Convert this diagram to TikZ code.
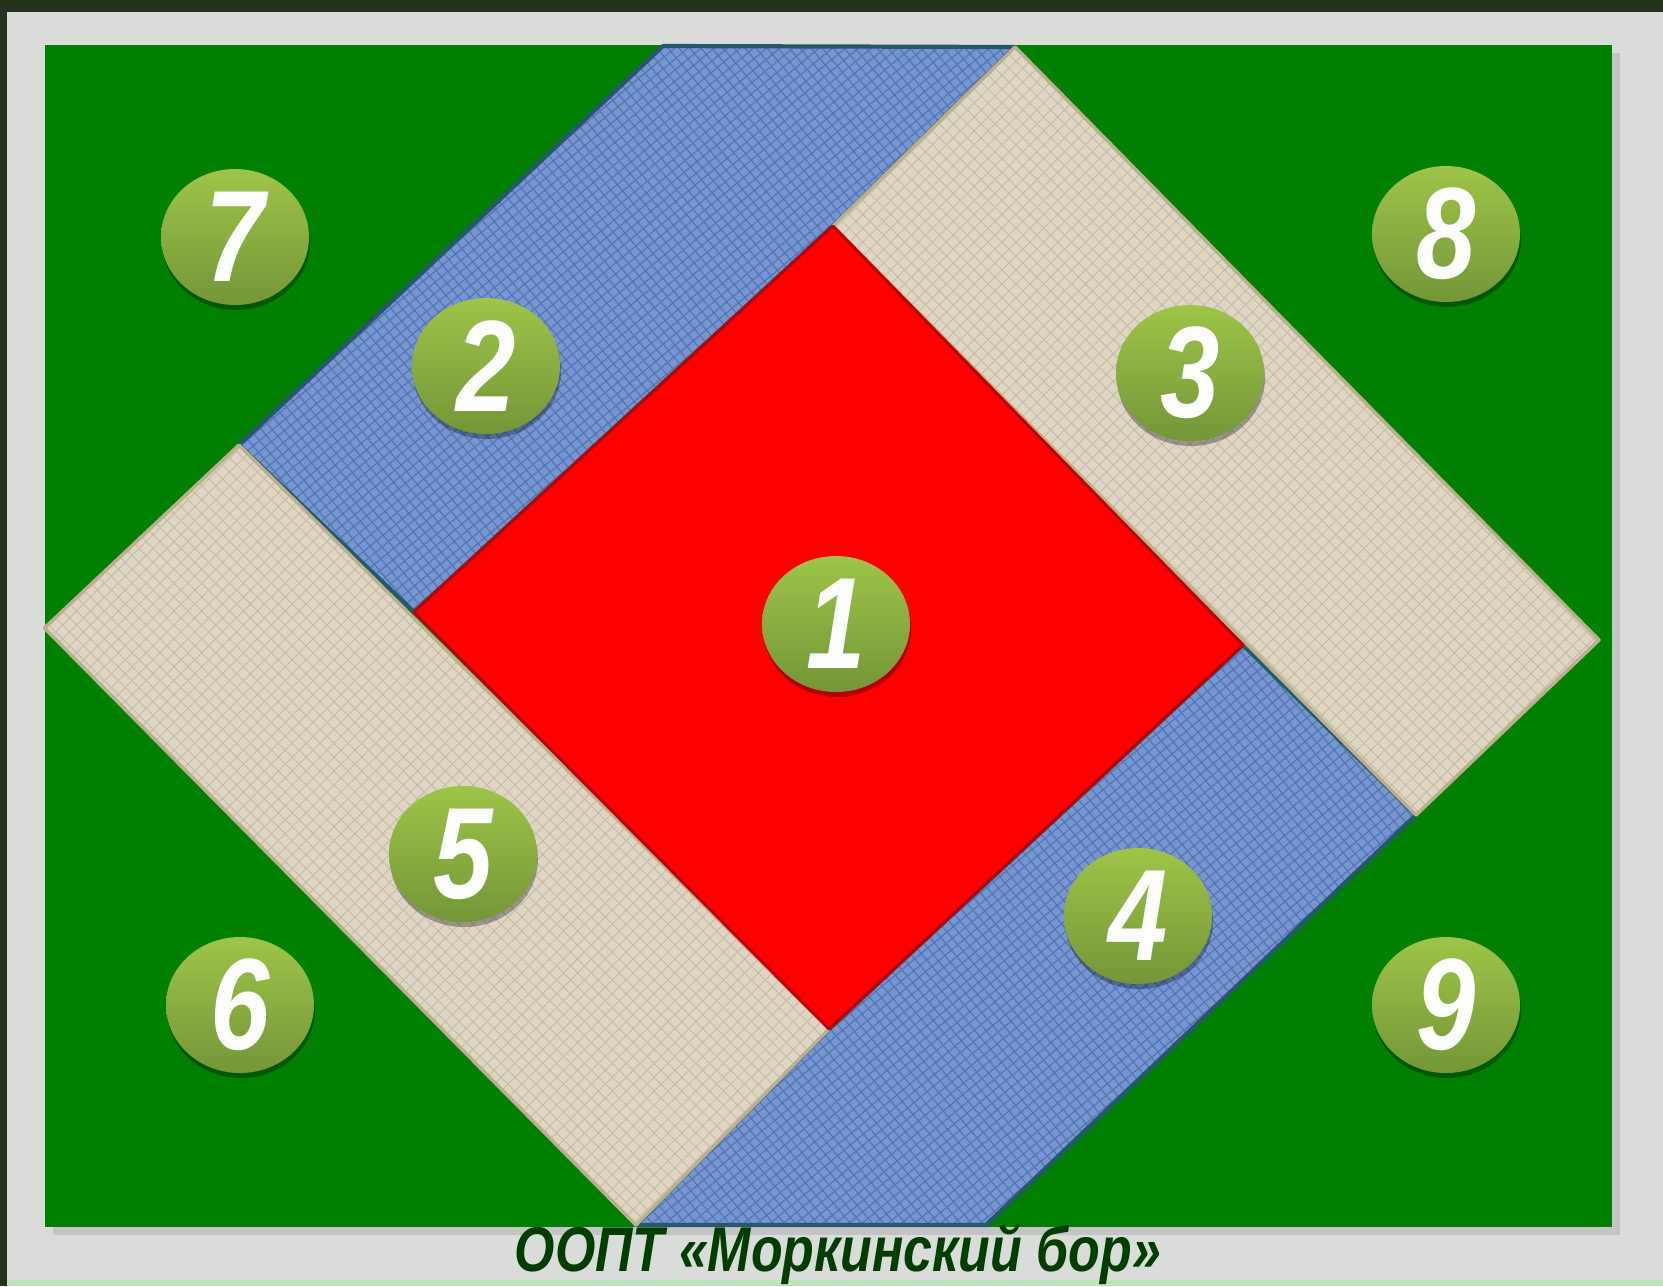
\documentclass[tikz,border=0pt]{standalone}
\usepackage{fontspec}
\usepackage{graphicx}
\setmainfont{Liberation Sans}
\usepackage{tikz}
\usetikzlibrary{shapes.geometric,shadows,patterns.meta}
\definecolor{fieldgreen}{RGB}{0,128,0}
\definecolor{corered}{RGB}{255,0,0}
\definecolor{clothblue}{RGB}{118,150,208}
\definecolor{clothdark}{RGB}{86,116,182}
\definecolor{clothedge}{RGB}{38,88,108}
\definecolor{linen}{RGB}{222,213,194}
\definecolor{linendark}{RGB}{196,187,166}
\definecolor{linenedge}{RGB}{184,176,142}
\definecolor{badgetop}{RGB}{158,196,72}
\definecolor{badgebottom}{RGB}{116,150,56}
\definecolor{titlegreen}{RGB}{0,62,0}
\definecolor{snow}{RGB}{218,220,218}
\definecolor{bark}{RGB}{36,50,30}
\newcommand{\zonenum}[1]{\scalebox{0.82}[1]{#1}}

\begin{document}
\begin{tikzpicture}[
      badge/.style={ellipse, inner sep=0pt, minimum width=1.48cm,
                    minimum height=1.36cm, top color=badgetop,
                    bottom color=badgebottom, text=white,
                    font=\fontsize{37}{40}\selectfont\bfseries\itshape,
                    drop shadow={shadow xshift=0.01cm, shadow yshift=-0.05cm,
                                 opacity=0.3, fill=black}},
      bluestrip/.style={draw=clothedge, line width=1.2pt, line join=round,
                        preaction={fill=clothblue},
                        preaction={pattern={Hatch[angle=40, distance=2.4pt,
                                   line width=0.35pt]},
                                   pattern color=clothdark}},
      linenstrip/.style={draw=linenedge, line width=1pt, line join=round,
                         preaction={fill=linen},
                         preaction={pattern={Hatch[angle=45, distance=2.8pt,
                                    line width=0.25pt]},
                                    pattern color=linendark}},
      core/.style={fill=corered, draw=corered!75!black, line width=0.8pt,
                   line join=round},
    ]
      \useasboundingbox (0,0) rectangle (16.63,-12.86);
      % backdrop
      \fill[snow] (0,0) rectangle (16.63,-12.86);
      \fill[bark] (0,0) rectangle (16.63,-0.12);
      \fill[bark] (0,0) rectangle (0.07,-12.86);
      \fill[green!12!snow] (0.07,-12.80) rectangle (16.63,-12.86);
      % field
      \fill[fieldgreen, drop shadow={shadow xshift=0.08cm,
            shadow yshift=-0.08cm, opacity=0.25}]
            (0.445,-0.445) rectangle (16.12,-12.27);
      \coordinate (A) at (6.63,-0.46);
      \coordinate (B) at (10.15,-0.47);
      \coordinate (C) at (2.39,-4.45);
      \coordinate (D) at (8.33,-2.26);
      \coordinate (E) at (4.14,-6.12);
      \coordinate (F) at (0.445,-6.28);
      \coordinate (G) at (12.43,-6.45);
      \coordinate (H) at (15.99,-6.40);
      \coordinate (I) at (14.16,-8.15);
      \coordinate (J) at (8.29,-10.29);
      \coordinate (K) at (6.36,-12.25);
      \coordinate (L) at (9.86,-12.25);
      % strips round the core
      \path[bluestrip] (C) -- (A) -- (B) -- (D) -- (E) -- cycle;
      \path[bluestrip] (K) -- (J) -- (G) -- (I) -- (L) -- cycle;
      \path[linenstrip] (D) -- (B) -- (H) -- (I) -- cycle;
      \path[linenstrip] (F) -- (C) -- (J) -- (K) -- cycle;
      \path[core] (D) -- (G) -- (J) -- (E) -- cycle;
      % zone numbers
      \node[badge] (zone1) at (8.36,-6.24) {\zonenum{1}};
      \node[badge] (zone2) at (4.86,-3.66) {\zonenum{2}};
      \node[badge] (zone3) at (11.90,-3.73) {\zonenum{3}};
      \node[badge] (zone4) at (11.38,-9.16) {\zonenum{4}};
      \node[badge] (zone5) at (4.63,-8.54) {\zonenum{5}};
      \node[badge] (zone6) at (2.40,-10.05) {\zonenum{6}};
      \node[badge] (zone7) at (2.35,-2.37) {\zonenum{7}};
      \node[badge] (zone8) at (14.46,-2.34) {\zonenum{8}};
      \node[badge] (zone9) at (14.46,-10.05) {\zonenum{9}};
      \node[anchor=base, text=titlegreen,
            font=\fontsize{18}{20}\selectfont\bfseries\itshape] (title)
            at (8.38,-12.71) {\scalebox{0.82}[1]{ООПТ «Моркинский бор»}};
    \end{tikzpicture}
\end{document}
